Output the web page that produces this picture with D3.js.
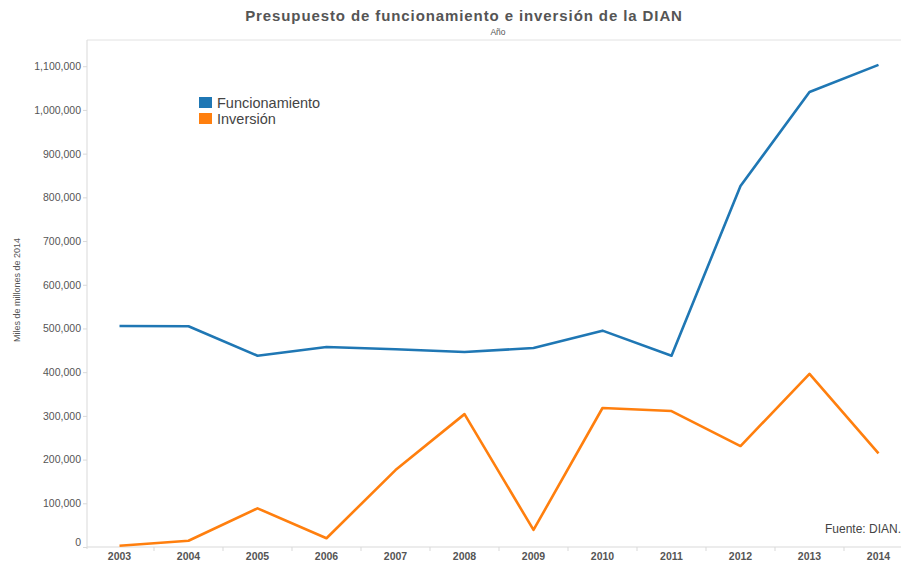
<!DOCTYPE html>
<html>
<head>
<meta charset="utf-8">
<script src="https://cdn.jsdelivr.net/npm/d3@7"></script>
<style>
  body { margin: 0; background: #fff; }
  svg { display: block; font-family: "Liberation Sans", Arial, sans-serif; }
</style>
</head>
<body>
<div id="vis"></div>
<script>
// data (miles de millones de 2014)
const years = [2003, 2004, 2005, 2006, 2007, 2008, 2009, 2010, 2011, 2012, 2013, 2014];
const funcionamiento = [505700, 505200, 437700, 457700, 452400, 446200, 455400, 495000, 437700, 826000, 1041000, 1103000];
const inversion = [3000, 14400, 88500, 20000, 176000, 304000, 39000, 318000, 311000, 231000, 396000, 214400];
const yTicks = [0, 100000, 200000, 300000, 400000, 500000, 600000, 700000, 800000, 900000, 1000000, 1100000];
const seriesNames = ["Funcionamiento", "Inversión"];
const colors = ["#1f77b4", "#ff7f0e"];

const W = 901, H = 563;
let margin = { top: 40, left: 87, bottom: 16 };

let svg = d3.select("#vis")
  .append("svg")
  .attr("width", W)
  .attr("height", H);

// scales
let x = d3.scaleBand()
  .domain(years)
  .range([85, 913])
  .padding(0);

let y = d3.scaleLinear()
  .domain([0, 1160000])
  .range([H - margin.bottom, margin.top]);

// title
svg.append("text")
  .attr("x", 464)
  .attr("y", 21)
  .attr("text-anchor", "middle")
  .attr("font-size", 15)
  .attr("font-weight", "bold")
  .attr("letter-spacing", 0.9)
  .attr("fill", "#555")
  .text("Presupuesto de funcionamiento e inversión de la DIAN");

svg.append("text")
  .attr("x", 498)
  .attr("y", 35)
  .attr("text-anchor", "middle")
  .attr("font-size", 8.5)
  .attr("fill", "#555")
  .text("Año");

// frame lines
svg.append("line")
  .attr("x1", margin.left).attr("x2", W)
  .attr("y1", margin.top).attr("y2", margin.top)
  .attr("stroke", "#e2e2e2");

// y axis
let yAxis = svg.append("g")
  .attr("transform", `translate(${margin.left},0)`)
  .call(d3.axisLeft(y).tickValues(yTicks).tickSize(4).tickFormat(d3.format(",")));
yAxis.select(".domain").remove();
yAxis.append("line")
  .attr("y1", margin.top).attr("y2", H - margin.bottom + 2)
  .attr("stroke", "#d9d9d9");
yAxis.selectAll(".tick line").attr("stroke", "#d9d9d9");
yAxis.selectAll(".tick text")
  .attr("x", -6)
  .attr("font-size", 10.5)
  .attr("fill", "#555")
  .attr("font-family", "Liberation Sans, Arial, sans-serif")
  .attr("dy", d => d === 0 ? "-0.1em" : "0.32em");

svg.append("text")
  .attr("transform", `translate(20,${290}) rotate(-90)`)
  .attr("text-anchor", "middle")
  .attr("font-size", 9)
  .attr("fill", "#555")
  .text("Miles de millones de 2014");

// x axis
let xAxis = svg.append("g")
  .attr("transform", `translate(0,${H - margin.bottom})`);
xAxis.append("line")
  .attr("x1", margin.left).attr("x2", W)
  .attr("stroke", "#d9d9d9");
xAxis.selectAll(".sep")
  .data(years.slice(1))
  .join("line")
  .attr("x1", d => x(d)).attr("x2", d => x(d))
  .attr("y1", 0).attr("y2", 4)
  .attr("stroke", "#d9d9d9");
xAxis.selectAll(".lbl")
  .data(years)
  .join("text")
  .attr("x", d => x(d) + x.bandwidth() / 2)
  .attr("y", 13)
  .attr("text-anchor", "middle")
  .attr("font-size", 10.5)
  .attr("font-weight", "bold")
  .attr("fill", "#555")
  .text(d => d);

// lines
let line = d3.line()
  .x((d, i) => x(years[i]) + x.bandwidth() / 2)
  .y(d => y(d));

[funcionamiento, inversion].forEach((s, i) => {
  svg.append("path")
    .datum(s)
    .attr("fill", "none")
    .attr("stroke", colors[i])
    .attr("stroke-width", 2.6)
    .attr("stroke-linejoin", "round")
    .attr("d", line);
});

// legend
let legend = svg.append("g").attr("transform", "translate(199,97)");
seriesNames.forEach((n, i) => {
  legend.append("rect")
    .attr("x", 0).attr("y", i * 16)
    .attr("width", 13).attr("height", 11)
    .attr("fill", colors[i]);
  legend.append("text")
    .attr("x", 18).attr("y", i * 16 + 10.5)
    .attr("font-size", 14.5)
    .attr("fill", "#444")
    .text(n);
});

// source note
svg.append("text")
  .attr("x", 901)
  .attr("y", 533)
  .attr("text-anchor", "end")
  .attr("font-size", 12)
  .attr("fill", "#444")
  .text("Fuente: DIAN.");
</script>
</body>
</html>
